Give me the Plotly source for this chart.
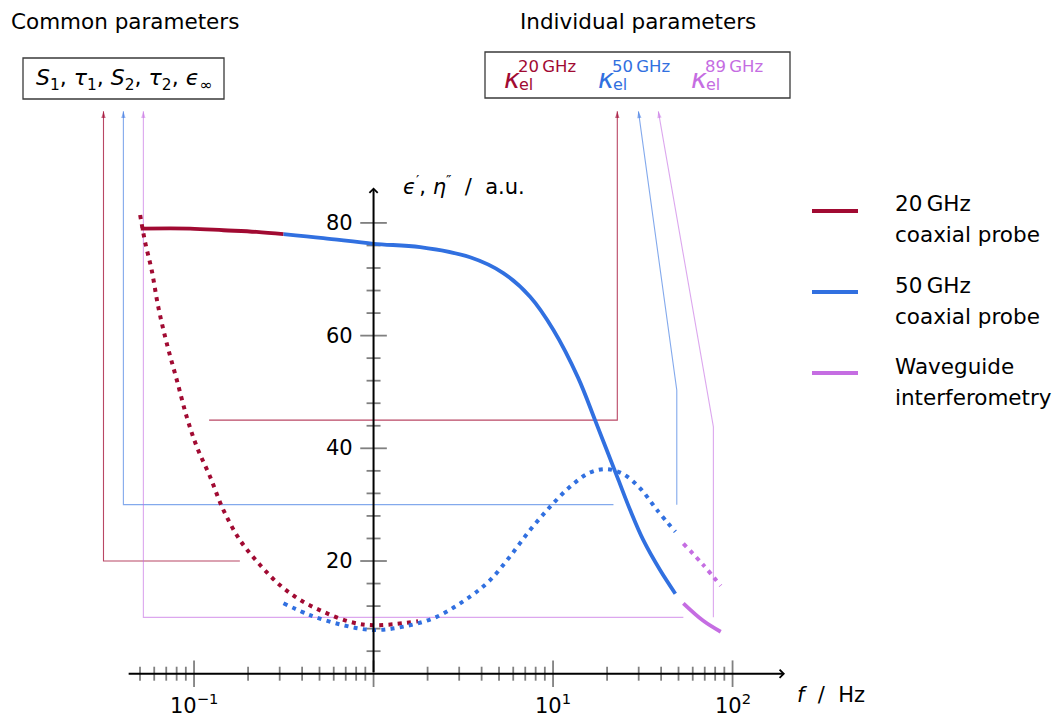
import math
import plotly.graph_objects as go

W, H = 1058, 718
FONT = "DejaVu Sans"

# Axis ranges (x in log10 units) chosen so the plot area covers the whole canvas
X_RANGE = [-2.081, 3.813]
Y_RANGE = [-7.86, 119.56]

RED = "#a10a32"
BLUE = "#3170e0"
PURPLE = "#c56de2"
TICK_GRAY = "#808080"

# --- Measured spectra ------------------------------------------------------
# real part, 20 GHz coaxial probe
eps1_20_f = [0.0505, 0.095, 0.146, 0.223, 0.315]
eps1_20_v = [79.0, 79.0, 78.7, 78.4, 78.0]
# imaginary part, 20 GHz coaxial probe
eps2_20_f = [0.0501, 0.0533, 0.0581, 0.0632, 0.0705, 0.0802, 0.0910, 0.1035,
             0.1227, 0.1455, 0.1803, 0.2333, 0.3013, 0.390, 0.525, 0.740,
             1.0, 1.77]
eps2_20_v = [81.4, 76.7, 71.6, 65.1, 58.6, 52.1, 45.6, 40.3,
             35.0, 29.1, 23.7, 19.3, 15.7, 13.1, 11.0, 9.2,
             8.6, 9.3]
# real part, 50 GHz coaxial probe
eps1_50_f = [0.315, 0.525, 1.0, 1.82, 3.45, 5.28, 7.45, 10.05, 13.8,
             17.14, 19.91, 23.12, 26.85, 31.84, 39.45, 48.0]
eps1_50_v = [78.0, 77.3, 76.3, 75.7, 73.9, 71.1, 66.9, 61.0, 52.5,
             45.0, 39.7, 34.4, 29.1, 23.7, 18.4, 14.2]
# imaginary part, 50 GHz coaxial probe
eps2_50_f = [0.315, 0.4426, 0.679, 1.0, 1.466, 2.249, 3.451, 4.457, 5.754,
             7.447, 9.616, 12.45, 16.07, 19.91, 24.66, 30.55, 37.84, 48.0]
eps2_50_v = [12.5, 10.4, 8.6, 7.75, 8.35, 10.1, 13.7, 16.6, 20.8,
             25.5, 29.6, 33.2, 35.7, 36.3, 35.4, 32.9, 29.1, 25.2]
# waveguide interferometry
eps1_wg_f = [53.2, 68.7, 85.9]
eps1_wg_v = [12.5, 9.4, 7.45]
eps2_wg_f = [53.2, 68.7, 85.9]
eps2_wg_v = [23.1, 19.3, 15.6]

# --- Parameter links (frequency, value) ------------------------------------
link_common_20_f = [0.180, 0.0313, 0.0313]
link_common_20_v = [20, 20, 99.8]
link_common_50_f = [21.7, 0.0404, 0.0404]
link_common_50_v = [30, 30, 99.8]
link_common_wg_f = [53.2, 0.0522, 0.0522]
link_common_wg_v = [10, 10, 99.8]
link_indiv_20_f = [0.1213, 22.8, 22.8]
link_indiv_20_v = [45, 45, 99.8]
link_indiv_50_f = [48.9, 48.9, 29.9]
link_indiv_50_v = [30, 50.3, 99.8]
link_indiv_wg_f = [78.2, 78.2, 38.6]
link_indiv_wg_v = [10, 43.8, 99.8]

# --- Axis ticks ------------------------------------------------------------
x_major = [0.1, 1, 10, 100]
x_minor = [0.05, 0.06, 0.07, 0.08, 0.09,
           0.2, 0.3, 0.4, 0.5, 0.6, 0.7, 0.8, 0.9,
           2, 3, 4, 5, 6, 7, 8, 9,
           20, 30, 40, 50, 60, 70, 80, 90]
x_ticklabels = {0.1: "10<sup>−1</sup>", 10: "10<sup>1</sup>", 100: "10<sup>2</sup>"}
y_major = [20, 40, 60, 80]
y_minor = [4, 8, 12, 16, 24, 28, 32, 36, 44, 48, 52, 56, 64, 68, 72, 76]
x_axis_start, x_axis_end = 0.0424, 196.0
y_axis_end = 86.3

legend_items = [("20\u2009GHz", "coaxial probe", RED),
                ("50\u2009GHz", "coaxial probe", BLUE),
                ("Waveguide", "interferometry", PURPLE)]


def rgba(hex_color, a):
    h = hex_color.lstrip("#")
    r, g, b = int(h[0:2], 16), int(h[2:4], 16), int(h[4:6], 16)
    return f"rgba({r},{g},{b},{a})"


def px(x):
    return x / W


def py(y):
    return 1 - y / H


fig = go.Figure()

# tick marks (crossing the axes)
for xs, ys, sym, size in [(x_minor, [0] * len(x_minor), "line-ns", 10),
                          (x_major, [0] * len(x_major), "line-ns", 19),
                          ([1] * len(y_minor), y_minor, "line-ew", 10),
                          ([1] * len(y_major), y_major, "line-ew", 19)]:
    fig.add_trace(go.Scatter(x=xs, y=ys, mode="markers",
                             marker=dict(symbol=sym, size=size,
                                         line=dict(color=TICK_GRAY, width=1.8)),
                             hoverinfo="skip", showlegend=False))


def add_link(f, v, color, alpha):
    n = len(f)
    fig.add_trace(go.Scatter(
        x=f, y=v, mode="lines+markers",
        line=dict(color=rgba(color, alpha), width=1.1),
        marker=dict(symbol=["circle"] * (n - 1) + ["arrow"],
                    size=[0] * (n - 1) + [7], angleref="previous",
                    color=rgba(color, min(1, alpha + 0.15)),
                    line=dict(width=0)),
        hoverinfo="skip", showlegend=False))


add_link(link_common_20_f, link_common_20_v, RED, 0.75)
add_link(link_common_50_f, link_common_50_v, BLUE, 0.6)
add_link(link_common_wg_f, link_common_wg_v, PURPLE, 0.6)
add_link(link_indiv_20_f, link_indiv_20_v, RED, 0.75)
add_link(link_indiv_50_f, link_indiv_50_v, BLUE, 0.6)
add_link(link_indiv_wg_f, link_indiv_wg_v, PURPLE, 0.6)

DOT = "4px,5.3px"


def add_curve(f, v, color, dotted):
    fig.add_trace(go.Scatter(
        x=f, y=v, mode="lines",
        line=dict(color=color, width=4 if dotted else 3.8, shape="spline",
                  smoothing=1.0, dash=DOT if dotted else "solid"),
        hoverinfo="skip", showlegend=False))


add_curve(eps2_20_f, eps2_20_v, RED, True)
add_curve(eps2_50_f, eps2_50_v, BLUE, True)
add_curve(eps2_wg_f, eps2_wg_v, PURPLE, True)
add_curve(eps1_20_f, eps1_20_v, RED, False)
add_curve(eps1_50_f, eps1_50_v, BLUE, False)
add_curve(eps1_wg_f, eps1_wg_v, PURPLE, False)

annotations = []
# axes with arrow tips
annotations.append(dict(x=math.log10(x_axis_end), y=0, ax=math.log10(x_axis_start), ay=0,
                        xref="x", yref="y", axref="x", ayref="y", text="",
                        showarrow=True, arrowhead=4, arrowsize=0.8, arrowwidth=2,
                        arrowcolor="black", standoff=0, startstandoff=0))
annotations.append(dict(x=0, y=y_axis_end, ax=0, ay=0,
                        xref="x", yref="y", axref="x", ayref="y", text="",
                        showarrow=True, arrowhead=4, arrowsize=0.8, arrowwidth=2,
                        arrowcolor="black", standoff=0, startstandoff=0))

# tick labels
for v in y_major:
    annotations.append(dict(x=0, y=v, xref="x", yref="y", text=str(v),
                            showarrow=False, xanchor="right", yanchor="middle",
                            xshift=-19, font=dict(family=FONT, size=21, color="black")))
for f, lab in x_ticklabels.items():
    annotations.append(dict(x=math.log10(f), y=0, xref="x", yref="y", text=lab,
                            showarrow=False, xanchor="center", yanchor="top",
                            yshift=-14, font=dict(family=FONT, size=21, color="black")))

# axis titles
annotations.append(dict(x=px(401), y=py(185), xref="paper", yref="paper",
                        text="<i>ϵ</i><sup>′</sup>, <i>η</i><sup>″</sup>  /  a.u.",
                        showarrow=False, xanchor="left", yanchor="middle",
                        font=dict(family=FONT, size=21, color="black")))
annotations.append(dict(x=px(795), y=py(695), xref="paper", yref="paper",
                        text="<i>f</i>  /  Hz",
                        showarrow=False, xanchor="left", yanchor="middle",
                        font=dict(family=FONT, size=21, color="black")))

# parameter headings and boxes
annotations.append(dict(x=px(9), y=py(21), xref="paper", yref="paper",
                        text="Common parameters", showarrow=False,
                        xanchor="left", yanchor="middle",
                        font=dict(family=FONT, size=21.5, color="black")))
annotations.append(dict(x=px(637.5), y=py(21), xref="paper", yref="paper",
                        text="Individual parameters", showarrow=False,
                        xanchor="center", yanchor="middle",
                        font=dict(family=FONT, size=21.5, color="black")))
annotations.append(dict(x=px(123.5), y=py(79), xref="paper", yref="paper",
                        text="<i>S</i><sub>1</sub>, <i>τ</i><sub>1</sub>, <i>S</i><sub>2</sub>, "
                             "<i>τ</i><sub>2</sub>, <i>ϵ</i><sub>∞</sub>",
                        showarrow=False, xanchor="center", yanchor="middle",
                        font=dict(family=FONT, size=22, color="black")))

kappa_items = [(502, "20\u2009GHz", RED), (596, "50\u2009GHz", BLUE), (689, "89\u2009GHz", PURPLE)]
for x0, sup, col in kappa_items:
    annotations.append(dict(x=px(x0), y=py(78), xref="paper", yref="paper",
                            text="<i>κ</i>", showarrow=False, xanchor="left", yanchor="middle",
                            font=dict(family=FONT, size=27, color=col)))
    annotations.append(dict(x=px(x0 + 15), y=py(84), xref="paper", yref="paper",
                            text="el", showarrow=False, xanchor="left", yanchor="middle",
                            font=dict(family=FONT, size=16, color=col)))
    annotations.append(dict(x=px(x0 + 14), y=py(66.5), xref="paper", yref="paper",
                            text=sup, showarrow=False, xanchor="left", yanchor="middle",
                            font=dict(family=FONT, size=16.5, color=col)))

# legend
legend_y = [204, 285, 366]
for (l1, l2, col), y0 in zip(legend_items, legend_y):
    annotations.append(dict(x=px(893), y=py(y0), xref="paper", yref="paper",
                            text=l1, showarrow=False, xanchor="left", yanchor="middle",
                            font=dict(family=FONT, size=21.5, color="black")))
    annotations.append(dict(x=px(893), y=py(y0 + 31), xref="paper", yref="paper",
                            text=l2, showarrow=False, xanchor="left", yanchor="middle",
                            font=dict(family=FONT, size=21.5, color="black")))

shapes = [
    dict(type="rect", xref="paper", yref="paper", x0=px(23), x1=px(224), y0=py(58), y1=py(99),
         line=dict(color="#3a3a3a", width=1.3)),
    dict(type="rect", xref="paper", yref="paper", x0=px(485), x1=px(790), y0=py(52), y1=py(98),
         line=dict(color="#3a3a3a", width=1.3)),
]
for (l1, l2, col), y0 in zip(legend_items, legend_y):
    shapes.append(dict(type="line", xref="paper", yref="paper", x0=px(812), x1=px(858),
                       y0=py(y0 + 7), y1=py(y0 + 7), line=dict(color=col, width=4)))

fig.update_layout(
    width=W, height=H, autosize=False,
    margin=dict(l=0, r=0, t=0, b=0, pad=0),
    paper_bgcolor="white", plot_bgcolor="white",
    showlegend=False,
    xaxis=dict(type="log", range=X_RANGE, showgrid=False, zeroline=False,
               showticklabels=False, showline=False, ticks="", fixedrange=True),
    yaxis=dict(range=Y_RANGE, showgrid=False, zeroline=False,
               showticklabels=False, showline=False, ticks="", fixedrange=True),
    annotations=annotations,
    shapes=shapes,
    font=dict(family=FONT),
)

fig.write_html("out.html", config=dict(displayModeBar=False))
